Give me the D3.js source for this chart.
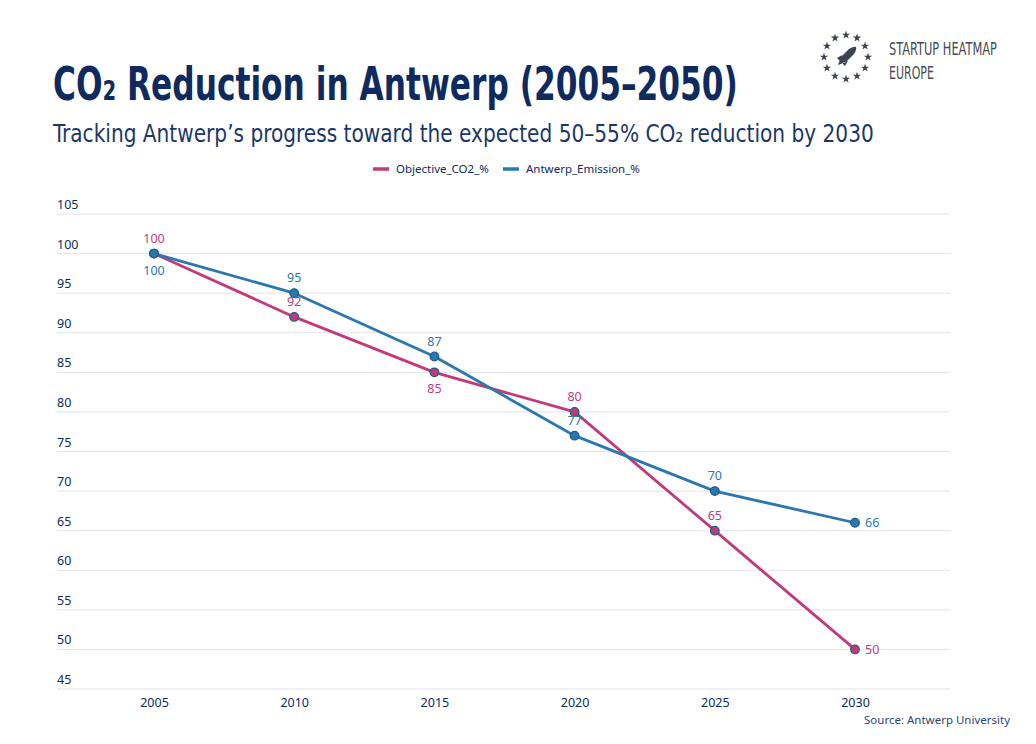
<!DOCTYPE html>
<html><head><meta charset="utf-8">
<script src="https://cdn.jsdelivr.net/npm/d3@7"></script>
<style>
html,body{margin:0;padding:0;background:#fff;}
svg{display:block;}
.narrow{font-family:"DejaVu Sans Condensed","Liberation Sans Narrow","Roboto",sans-serif;}
.body{font-family:"Noto Sans","Open Sans",sans-serif;}
</style></head>
<body>
<svg id="c" width="1036" height="744"></svg>
<script>
const years = ["2005","2010","2015","2020","2025","2030"];
const objective = [100, 92, 85, 80, 65, 50];
const emission = [100, 95, 87, 77, 70, 66];
const yTicks = [45,50,55,60,65,70,75,80,85,90,95,100,105];
const seriesNames = ["Objective_CO2_%","Antwerp_Emission_%"];
// label placement per point: a=above, b=below, r=right
const objPos = ["a","a","b","a","a","r"];
const emiPos = ["b","a","a","a","a","r"];

const pink = "#c23b78", blue = "#2a78ad", navy = "#0f2a5e", markerStroke = "#1f5c8c";
const svg = d3.select("#c");

const x = d3.scalePoint().domain(years).range([154, 855]);
const y = d3.scaleLinear().domain([45,105]).range([689,214]);

// grid
svg.append("g").selectAll("line").data(yTicks).join("line")
  .attr("x1",57).attr("x2",950).attr("y1",d=>y(d)).attr("y2",d=>y(d))
  .attr("stroke","#e3e3ea").attr("stroke-width",1);
svg.append("g").selectAll("text").data(yTicks).join("text")
  .attr("class","body").attr("x",57).attr("y",d=>y(d)-5)
  .attr("font-size",12.5).attr("fill",navy).text(d=>d);

// x axis labels
const xa = svg.append("g").attr("transform","translate(0,689)")
  .call(d3.axisBottom(x).tickSize(0).tickPadding(9));
xa.select(".domain").remove();
xa.selectAll("text").attr("font-size",12.5).attr("fill",navy).attr("font-family","Noto Sans");

const line = d3.line().x((d,i)=>x(years[i])).y(d=>y(d));
function drawSeries(vals, color){
  svg.append("path").datum(vals).attr("d",line).attr("fill","none")
    .attr("stroke",color).attr("stroke-width",2.8).attr("stroke-linejoin","round");
}
function drawMarkers(vals,color){
  svg.append("g").selectAll("circle").data(vals).join("circle")
    .attr("cx",(d,i)=>x(years[i])).attr("cy",d=>y(d)).attr("r",4.3)
    .attr("fill",color).attr("stroke",markerStroke).attr("stroke-width",1.3);
}
function drawLabels(vals,color,pos){
  svg.append("g").selectAll("text").data(vals).join("text")
    .attr("class","body").attr("font-size",12.5).attr("fill",color)
    .attr("x",(d,i)=>pos[i]==="r"? x(years[i])+10 : x(years[i]))
    .attr("y",(d,i)=>pos[i]==="a"? y(d)-11 : pos[i]==="b"? y(d)+21 : y(d)+4.5)
    .attr("text-anchor",(d,i)=>pos[i]==="r"?"start":"middle")
    .text(d=>d);
}
drawSeries(objective,pink);
drawSeries(emission,blue);
drawMarkers(objective,pink);
drawMarkers(emission,blue);
drawLabels(objective,pink,objPos);
drawLabels(emission,blue,emiPos);

// legend
const lg = [{n:seriesNames[0],c:pink,x:373},{n:seriesNames[1],c:blue,x:503}];
lg.forEach(l=>{
  svg.append("line").attr("x1",l.x).attr("x2",l.x+16).attr("y1",169).attr("y2",169)
    .attr("stroke",l.c).attr("stroke-width",3.5);
  svg.append("text").attr("class","body").attr("x",l.x+23).attr("y",173)
    .attr("font-size",11.5).attr("fill",navy).text(l.n);
});

// helper: squeeze text horizontally to a target width via transform
function fitText(tx, ty, w, size, weight, fill, str){
  const t = svg.append("text").attr("class","narrow")
    .attr("font-size",size).attr("font-weight",weight).attr("fill",fill).text(str);
  const nat = t.node().getComputedTextLength() || w;
  t.attr("transform",`translate(${tx},${ty}) scale(${w/nat},1)`);
  return t;
}

fitText(53,100,685,46,"bold",navy,"CO₂ Reduction in Antwerp (2005–2050)");
fitText(53,142,821,25,"normal","#1b3768","Tracking Antwerp’s progress toward the expected 50–55% CO₂ reduction by 2030");

// source
svg.append("text").attr("class","body").attr("x",1010).attr("y",724)
  .attr("text-anchor","end").attr("font-size",11.5).attr("fill","#2b4670")
  .text("Source: Antwerp University");

// logo
const logo = svg.append("g").attr("transform","translate(846,57)");
const star = d3.symbol().type(d3.symbolStar).size(22);
d3.range(12).forEach(i=>{
  const a = i*Math.PI/6;
  logo.append("path").attr("d",star())
    .attr("transform",`translate(${22*Math.sin(a)},${-22*Math.cos(a)})`)
    .attr("fill","#3d4350");
});
logo.append("path")
  .attr("d","M-8,8 L-5,0 L3,-8 Q8,-11 10,-10 Q11,-8 8,-3 L0,5 Z M-9,1 L-4,-2 L-6,4 Z M-1,9 L2,4 L-4,6 Z")
  .attr("fill","#3d4350");
fitText(889,55,108,17,"normal","#454a55","STARTUP HEATMAP");
fitText(889,79,45,17,"normal","#454a55","EUROPE");
</script>
</body></html>
